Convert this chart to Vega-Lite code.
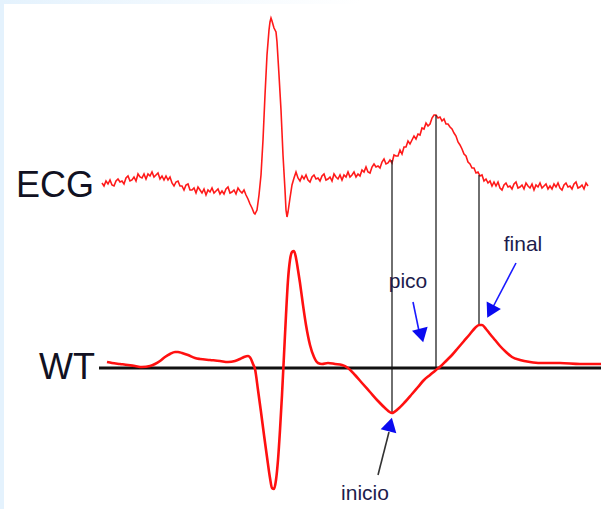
{
  "$schema": "https://vega.github.io/schema/vega-lite/v6.json",
  "width": 601,
  "height": 509,
  "autosize": {"type": "none"},
  "padding": 0,
  "background": "#ffffff",
  "config": {"view": {"stroke": null}},
  "datasets": {
    "frame": [
      {"part": "left", "x": 0, "x2": 4, "y": 0, "y2": 509},
      {"part": "top", "x": 0, "x2": 601, "y": 0, "y2": 4}
    ],
    "ecg": [
      {"x":102,"y":183},{"x":104,"y":186},{"x":106,"y":181},{"x":108,"y":184},{"x":110,"y":180},{"x":112,"y":185},{"x":114,"y":186},{"x":116,"y":181},{"x":118,"y":179},{"x":120,"y":182},
      {"x":122,"y":181},{"x":124,"y":184},{"x":126,"y":178},{"x":128,"y":176},{"x":130,"y":181},{"x":132,"y":180},{"x":134,"y":177},{"x":136,"y":181},{"x":138,"y":174},{"x":140,"y":177},
      {"x":142,"y":178},{"x":144,"y":174},{"x":146,"y":179},{"x":148,"y":174},{"x":150,"y":176},{"x":152,"y":172},{"x":154,"y":177},{"x":156,"y":175},{"x":158,"y":173},{"x":160,"y":179},
      {"x":162,"y":176},{"x":164,"y":180},{"x":166,"y":176},{"x":168,"y":180},{"x":170,"y":177},{"x":172,"y":183},{"x":174,"y":186},{"x":176,"y":182},{"x":178,"y":181},{"x":180,"y":186},
      {"x":182,"y":186},{"x":184,"y":190},{"x":186,"y":185},{"x":188,"y":184},{"x":190,"y":190},{"x":192,"y":190},{"x":194,"y":188},{"x":196,"y":193},{"x":198,"y":187},{"x":200,"y":190},
      {"x":202,"y":193},{"x":204,"y":189},{"x":206,"y":195},{"x":208,"y":190},{"x":210,"y":192},{"x":212,"y":188},{"x":214,"y":193},{"x":216,"y":191},{"x":218,"y":189},{"x":220,"y":194},
      {"x":222,"y":191},{"x":224,"y":194},{"x":226,"y":189},{"x":228,"y":187},{"x":230,"y":193},{"x":232,"y":192},{"x":234,"y":190},{"x":236,"y":194},{"x":238,"y":188},{"x":240,"y":191},
      {"x":242,"y":193},{"x":244,"y":190},{"x":246,"y":195},{"x":248,"y":199},{"x":250,"y":204},{"x":252,"y":208},{"x":254,"y":213},{"x":255,"y":214},{"x":257,"y":210},{"x":259,"y":195},
      {"x":261,"y":175},{"x":263,"y":140},{"x":265,"y":95},{"x":267,"y":55},{"x":269,"y":30},{"x":270,"y":22},{"x":271,"y":18},{"x":272,"y":21},{"x":274,"y":28},{"x":276,"y":32},
      {"x":277,"y":42},{"x":279,"y":75},{"x":281,"y":110},{"x":283,"y":155},{"x":285,"y":190},{"x":286,"y":210},{"x":287,"y":217},{"x":288,"y":212},{"x":290,"y":198},{"x":292,"y":185},
      {"x":294,"y":178},{"x":296,"y":172},{"x":298,"y":178},{"x":300,"y":181},{"x":302,"y":176},{"x":304,"y":179},{"x":306,"y":175},{"x":308,"y":180},{"x":310,"y":182},{"x":312,"y":177},
      {"x":314,"y":175},{"x":316,"y":179},{"x":318,"y":178},{"x":320,"y":181},{"x":322,"y":176},{"x":324,"y":174},{"x":326,"y":180},{"x":328,"y":179},{"x":330,"y":177},{"x":332,"y":181},
      {"x":334,"y":174},{"x":336,"y":177},{"x":338,"y":179},{"x":340,"y":175},{"x":342,"y":180},{"x":344,"y":175},{"x":346,"y":177},{"x":348,"y":172},{"x":350,"y":177},{"x":352,"y":175},
      {"x":354,"y":172},{"x":356,"y":177},{"x":358,"y":174},{"x":360,"y":176},{"x":362,"y":170},{"x":364,"y":172},{"x":366,"y":167},{"x":368,"y":172},{"x":370,"y":173},{"x":372,"y":167},
      {"x":374,"y":164},{"x":376,"y":167},{"x":378,"y":166},{"x":380,"y":168},{"x":382,"y":162},{"x":384,"y":159},{"x":386,"y":164},{"x":388,"y":163},{"x":390,"y":160},{"x":392,"y":163},
      {"x":394,"y":155},{"x":396,"y":156},{"x":398,"y":156},{"x":400,"y":150},{"x":402,"y":154},{"x":404,"y":147},{"x":406,"y":147},{"x":408,"y":141},{"x":410,"y":144},{"x":412,"y":140},
      {"x":414,"y":136},{"x":416,"y":139},{"x":418,"y":134},{"x":420,"y":135},{"x":422,"y":128},{"x":424,"y":129},{"x":426,"y":123},{"x":428,"y":126},{"x":430,"y":124},{"x":432,"y":118},
      {"x":434,"y":115},{"x":436,"y":115},{"x":438,"y":118},{"x":440,"y":117},{"x":442,"y":121},{"x":444,"y":119},{"x":446,"y":124},{"x":448,"y":124},{"x":450,"y":127},{"x":452,"y":129},
      {"x":454,"y":133},{"x":456,"y":136},{"x":458,"y":142},{"x":460,"y":145},{"x":462,"y":149},{"x":464,"y":154},{"x":466,"y":156},{"x":468,"y":162},{"x":470,"y":164},{"x":472,"y":168},
      {"x":474,"y":168},{"x":476,"y":173},{"x":478,"y":172},{"x":480,"y":176},{"x":482,"y":175},{"x":484,"y":181},{"x":486,"y":179},{"x":488,"y":183},{"x":490,"y":181},{"x":492,"y":186},
      {"x":494,"y":182},{"x":496,"y":186},{"x":498,"y":182},{"x":500,"y":188},{"x":502,"y":190},{"x":504,"y":185},{"x":506,"y":183},{"x":508,"y":187},{"x":510,"y":186},{"x":512,"y":189},
      {"x":514,"y":184},{"x":516,"y":182},{"x":518,"y":188},{"x":520,"y":187},{"x":522,"y":185},{"x":524,"y":189},{"x":526,"y":183},{"x":528,"y":186},{"x":530,"y":188},{"x":532,"y":184},
      {"x":534,"y":190},{"x":536,"y":185},{"x":538,"y":187},{"x":540,"y":183},{"x":542,"y":188},{"x":544,"y":186},{"x":546,"y":184},{"x":548,"y":189},{"x":550,"y":186},{"x":552,"y":189},
      {"x":554,"y":184},{"x":556,"y":187},{"x":558,"y":183},{"x":560,"y":188},{"x":562,"y":190},{"x":564,"y":185},{"x":566,"y":183},{"x":568,"y":187},{"x":570,"y":186},{"x":572,"y":189},
      {"x":574,"y":184},{"x":576,"y":182},{"x":578,"y":188},{"x":580,"y":187},{"x":582,"y":185},{"x":584,"y":189},{"x":586,"y":183},{"x":588,"y":186}
    ],
    "wt": [
      {"x":107,"y":362},{"x":112,"y":363},{"x":120,"y":364},{"x":128,"y":365},{"x":135,"y":366},{"x":142,"y":367},{"x":150,"y":366},{"x":155,"y":364},{"x":160,"y":361},{"x":165,"y":357},
      {"x":170,"y":354},{"x":175,"y":352},{"x":178,"y":352},{"x":182,"y":353},{"x":188,"y":355},{"x":195,"y":358},{"x":200,"y":359},{"x":210,"y":360},{"x":220,"y":361},{"x":228,"y":362},
      {"x":235,"y":361},{"x":240,"y":359},{"x":244,"y":357},{"x":248,"y":356},{"x":251,"y":359},{"x":253,"y":364},{"x":255,"y":369},{"x":258,"y":390},{"x":261,"y":412},{"x":264,"y":435},
      {"x":267,"y":457},{"x":270,"y":478},{"x":272,"y":488},{"x":274,"y":489},{"x":276,"y":480},{"x":278,"y":460},{"x":280,"y":430},{"x":282,"y":395},{"x":284,"y":355},{"x":286,"y":315},
      {"x":288,"y":280},{"x":290,"y":260},{"x":292,"y":252},{"x":294,"y":251},{"x":296,"y":258},{"x":298,"y":270},{"x":300,"y":283},{"x":303,"y":305},{"x":306,"y":325},{"x":310,"y":345},
      {"x":314,"y":357},{"x":318,"y":363},{"x":322,"y":364},{"x":328,"y":363},{"x":335,"y":364},{"x":342,"y":365},{"x":348,"y":368},{"x":355,"y":375},{"x":362,"y":383},{"x":370,"y":392},
      {"x":378,"y":401},{"x":385,"y":408},{"x":392,"y":413},{"x":398,"y":409},{"x":405,"y":402},{"x":412,"y":394},{"x":418,"y":387},{"x":424,"y":380},{"x":430,"y":375},{"x":436,"y":370},
      {"x":441,"y":366},{"x":446,"y":361},{"x":452,"y":355},{"x":458,"y":348},{"x":464,"y":341},{"x":470,"y":334},{"x":475,"y":328},{"x":479,"y":325},{"x":482,"y":325},{"x":486,"y":329},
      {"x":490,"y":334},{"x":495,"y":340},{"x":500,"y":346},{"x":506,"y":352},{"x":512,"y":357},{"x":520,"y":360},{"x":530,"y":362},{"x":540,"y":363},{"x":560,"y":363},{"x":580,"y":364},
      {"x":601,"y":364}
    ],
    "baseline": [{"x": 99, "x2": 601, "y": 368}],
    "vlines": [
      {"x": 392, "y": 160, "y2": 412},
      {"x": 436, "y": 115, "y2": 369},
      {"x": 479, "y": 175, "y2": 325}
    ],
    "stems": [
      {"label": "pico", "kind": "blue", "x": 413, "y": 302, "x2": 419, "y2": 331},
      {"label": "final", "kind": "blue", "x": 516, "y": 263, "x2": 493, "y2": 307},
      {"label": "inicio", "kind": "dark", "x": 378, "y": 475, "x2": 389, "y2": 432}
    ],
    "heads": [
      {"label": "pico", "x": 421.5, "y": 335.5, "heading": 166},
      {"label": "final", "x": 490.5, "y": 311.5, "heading": 208},
      {"label": "inicio", "x": 390.2, "y": 424.5, "heading": 14}
    ],
    "labels": [
      {"text": "pico", "x": 408, "y": 288},
      {"text": "final", "x": 523, "y": 251},
      {"text": "inicio", "x": 365, "y": 500}
    ],
    "names": [
      {"text": "ECG", "x": 16, "y": 197},
      {"text": "WT", "x": 39, "y": 379}
    ]
  },
  "layer": [
    {
      "data": {"name": "frame"},
      "transform": [{"filter": "datum.part === 'left'"}],
      "mark": {"type": "rect", "color": "#e4f2fd"},
      "encoding": {
        "x": {"field": "x", "type": "quantitative", "scale": {"domain": [0, 601], "nice": false, "zero": false}, "axis": null},
        "x2": {"field": "x2"},
        "y": {"field": "y", "type": "quantitative", "scale": {"domain": [0, 509], "reverse": true, "nice": false, "zero": false}, "axis": null},
        "y2": {"field": "y2"}
      }
    },
    {
      "data": {"name": "frame"},
      "transform": [{"filter": "datum.part === 'top'"}],
      "mark": {"type": "rect", "color": {"gradient": "linear", "x1": 0, "x2": 1, "y1": 0, "y2": 0, "stops": [{"offset": 0, "color": "#e4f2fd"}, {"offset": 0.6, "color": "#ffffff"}]}},
      "encoding": {
        "x": {"field": "x", "type": "quantitative", "axis": null},
        "x2": {"field": "x2"},
        "y": {"field": "y", "type": "quantitative", "axis": null},
        "y2": {"field": "y2"}
      }
    },
    {
      "data": {"name": "ecg"},
      "mark": {"type": "line", "color": "#ff1a1a", "strokeWidth": 1.6, "interpolate": "linear"},
      "encoding": {
        "x": {"field": "x", "type": "quantitative", "axis": null},
        "y": {"field": "y", "type": "quantitative", "axis": null}
      }
    },
    {
      "data": {"name": "vlines"},
      "mark": {"type": "rule", "color": "#222222", "strokeWidth": 1.3},
      "encoding": {
        "x": {"field": "x", "type": "quantitative", "axis": null},
        "y": {"field": "y", "type": "quantitative", "axis": null},
        "y2": {"field": "y2"}
      }
    },
    {
      "data": {"name": "baseline"},
      "mark": {"type": "rule", "color": "#111111", "strokeWidth": 3},
      "encoding": {
        "x": {"field": "x", "type": "quantitative", "axis": null},
        "x2": {"field": "x2"},
        "y": {"field": "y", "type": "quantitative", "axis": null}
      }
    },
    {
      "data": {"name": "wt"},
      "mark": {"type": "line", "color": "#ff1010", "strokeWidth": 2.6, "interpolate": "monotone"},
      "encoding": {
        "x": {"field": "x", "type": "quantitative", "axis": null},
        "y": {"field": "y", "type": "quantitative", "axis": null}
      }
    },
    {
      "data": {"name": "stems"},
      "mark": {"type": "rule", "strokeWidth": 1.6},
      "encoding": {
        "x": {"field": "x", "type": "quantitative", "axis": null},
        "x2": {"field": "x2"},
        "y": {"field": "y", "type": "quantitative", "axis": null},
        "y2": {"field": "y2"},
        "color": {"field": "kind", "type": "nominal", "scale": {"domain": ["blue", "dark"], "range": ["#1a1aff", "#333333"]}, "legend": null}
      }
    },
    {
      "data": {"name": "heads"},
      "mark": {"type": "point", "shape": "triangle-up", "filled": true, "color": "#0a0af0", "size": 260, "opacity": 1},
      "encoding": {
        "x": {"field": "x", "type": "quantitative", "axis": null},
        "y": {"field": "y", "type": "quantitative", "axis": null},
        "angle": {"field": "heading", "type": "quantitative", "scale": null}
      }
    },
    {
      "data": {"name": "labels"},
      "mark": {"type": "text", "font": "Liberation Sans Narrow, Liberation Sans", "fontSize": 21, "color": "#1c1c4c", "align": "center", "baseline": "alphabetic"},
      "encoding": {
        "x": {"field": "x", "type": "quantitative", "axis": null},
        "y": {"field": "y", "type": "quantitative", "axis": null},
        "text": {"field": "text"}
      }
    },
    {
      "data": {"name": "names"},
      "mark": {"type": "text", "font": "Liberation Sans", "fontSize": 36, "color": "#111122", "align": "left", "baseline": "alphabetic"},
      "encoding": {
        "x": {"field": "x", "type": "quantitative", "axis": null},
        "y": {"field": "y", "type": "quantitative", "axis": null},
        "text": {"field": "text"}
      }
    }
  ]
}
